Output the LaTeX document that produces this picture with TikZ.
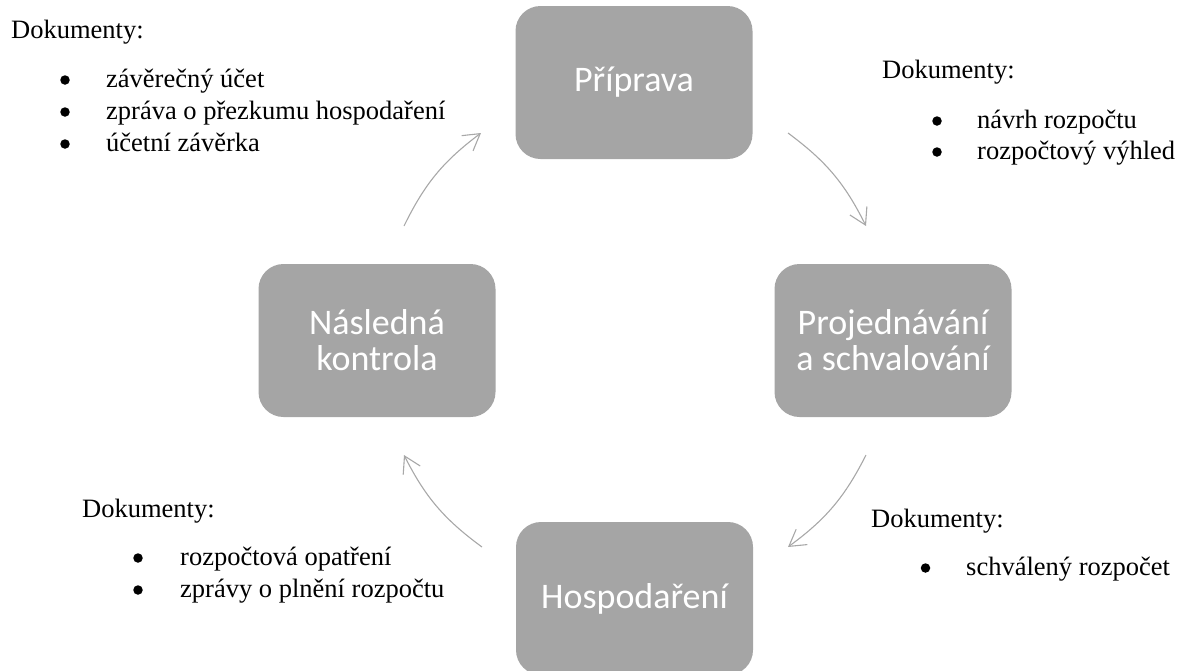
\documentclass[tikz,border=0pt]{standalone}
\usepackage{fontspec}
\setmainfont{Liberation Serif}
\newfontfamily\boxfont{Carlito}
\usetikzlibrary{arrows.meta}
\definecolor{boxgray}{HTML}{A5A5A5}
\definecolor{arrowgray}{HTML}{A8A8A8}
\begin{document}
\begin{tikzpicture}[x=1pt,y=-1pt,
  stage/.style={draw=none, fill=boxgray, rounded corners=25pt, minimum width=237pt, minimum height=153pt, inner sep=0pt, text=white, font=\boxfont\fontsize{36}{36}\selectfont, align=center},
  doc/.style={anchor=base west, inner sep=0pt, font=\fontsize{26.5}{32}\selectfont},
  dot/.style={circle, fill=black, inner sep=0pt, minimum size=9.5pt},
  cyc/.style={draw=arrowgray, line width=1.1pt, -{Straight Barb[length=16pt,width=19pt,line width=1.1pt]}, bend left=13.5}
]
\useasboundingbox (0,0) rectangle (1179,670);
\clip (0,0) rectangle (1179,670);

% stage boxes
\node[stage] (prip) at (634,82.5) {Příprava};
\node[stage] (nasl) at (377,340.5) {Následná\\kontrola};
\node[stage] (proj) at (893,340.5) {Projednávání\\a schvalování};
\node[stage] (hosp) at (634.5,598.5) {Hospodaření};

% cycle arrows
\coordinate (a1s) at (788,133);
\coordinate (a1e) at (866,226);
\coordinate (a2s) at (866,455);
\coordinate (a2e) at (788,547);
\coordinate (a3s) at (482,547);
\coordinate (a3e) at (404,455);
\coordinate (a4s) at (404,226);
\coordinate (a4e) at (481,133);
\draw[cyc] (a1s) to (a1e);
\draw[cyc] (a2s) to (a2e);
\draw[cyc] (a3s) to (a3e);
\draw[cyc] (a4s) to (a4e);

% top-left documents
\node[doc] (tlh) at (11,38) {Dokumenty:};
\node[dot] (tlb1) at (65,80) {};
\node[doc] (tlt1) at (106,87) {závěrečný účet};
\node[dot] (tlb2) at (65,112) {};
\node[doc] (tlt2) at (106,119) {zpráva o přezkumu hospodaření};
\node[dot] (tlb3) at (65,144) {};
\node[doc] (tlt3) at (106,151) {účetní závěrka};

% top-right documents
\node[doc] (trh) at (882,78) {Dokumenty:};
\node[dot] (trb1) at (937,121) {};
\node[doc] (trt1) at (977,128) {návrh rozpočtu};
\node[dot] (trb2) at (937,152) {};
\node[doc] (trt2) at (977,159) {rozpočtový výhled};

% bottom-left documents
\node[doc] (blh) at (82,517) {Dokumenty:};
\node[dot] (blb1) at (138,558) {};
\node[doc] (blt1) at (180,565) {rozpočtová opatření};
\node[dot] (blb2) at (138,590) {};
\node[doc] (blt2) at (180,597) {zprávy o plnění rozpočtu};

% bottom-right documents
\node[doc] (brh) at (871,527) {Dokumenty:};
\node[dot] (brb1) at (925.5,568) {};
\node[doc] (brt1) at (966,575) {schválený rozpočet};
\end{tikzpicture}
\end{document}
